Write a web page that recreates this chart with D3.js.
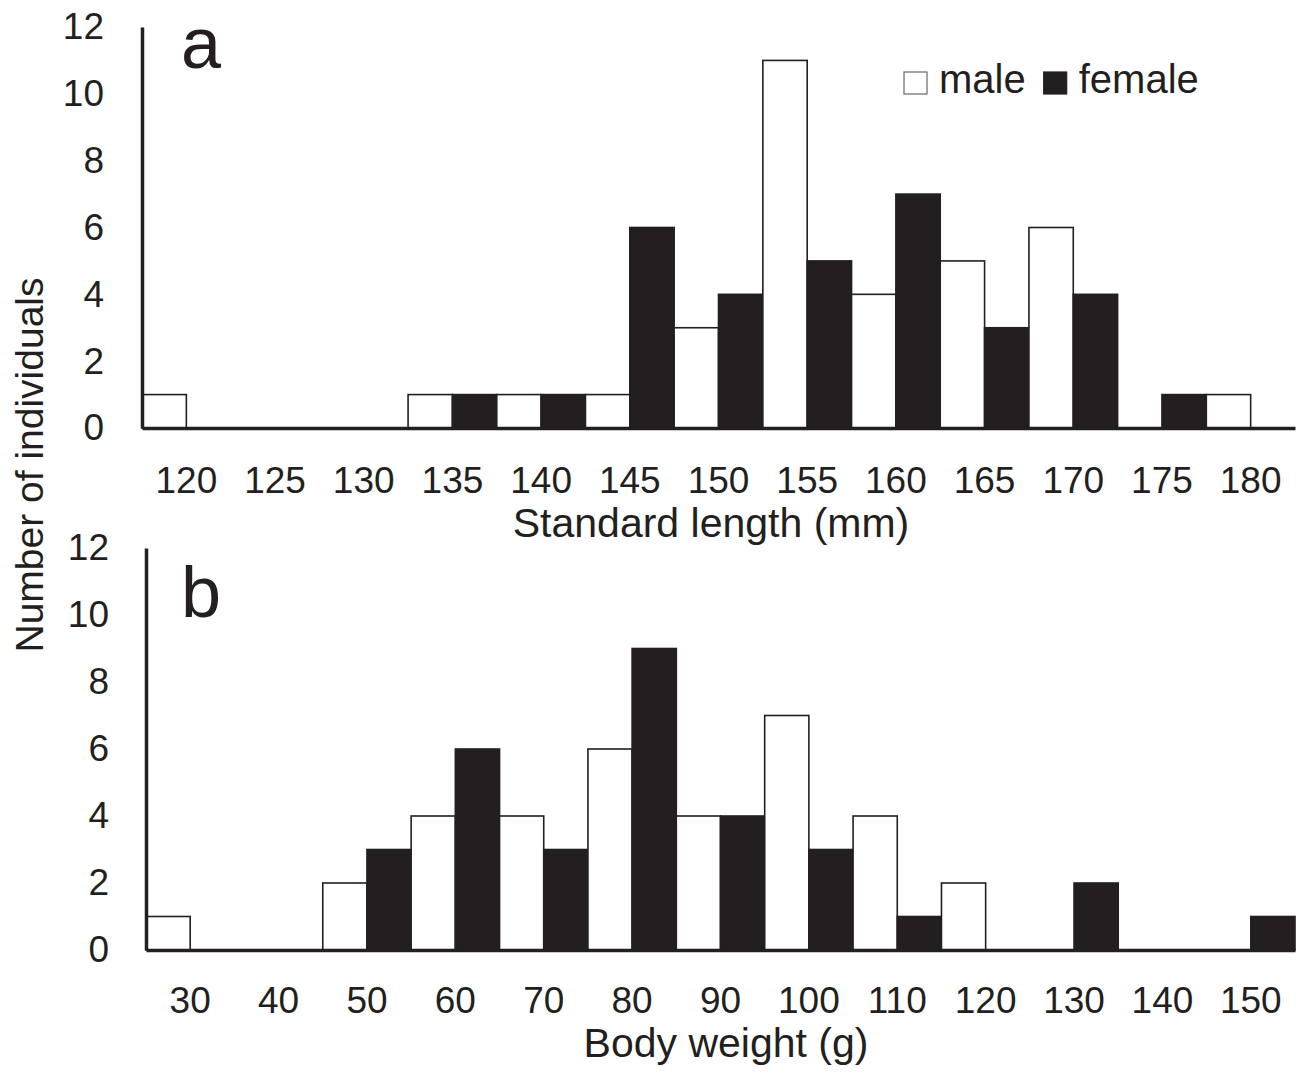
<!DOCTYPE html>
<html>
<head>
<meta charset="utf-8">
<script src="https://cdn.jsdelivr.net/npm/d3@7"></script>
<style>
  body { margin: 0; background: #fff; }
  text { font-family: "Liberation Sans", Arial, sans-serif; fill: #231f20; }
</style>
</head>
<body>
<script>
// data
const lengthBins = ["120","125","130","135","140","145","150","155","160","165","170","175","180"]
const lengthMale   = [1,0,0,1,1,1,3,11,4,5,6,0,1]
const lengthFemale = [0,0,0,1,1,6,4,5,7,3,4,1,0]

const weightBins = ["30","40","50","60","70","80","90","100","110","120","130","140","150"]
const weightMale   = [1,0,2,4,4,6,4,7,4,2,0,0,0]
const weightFemale = [0,0,3,6,3,9,4,3,1,0,2,0,1]

const sexes = ["male", "female"]
const yTicks = [0,2,4,6,8,10,12]

const ink = "#231f20"

let svg = d3.select("body")
        .append("svg")
        .attr("width", 1300)
        .attr("height", 1076)

// draws one panel
function panel(opt) {
    let x = d3.scaleBand().domain(opt.bins).range([opt.left, opt.right])
    let xSub = d3.scaleBand().domain(sexes).range([0, x.bandwidth()])
    let y = d3.scaleLinear().domain([0, 12]).range([opt.bottom, opt.top])

    let g = svg.append("g")

    let rows = opt.bins.map((b, i) => ({bin: b, male: opt.male[i], female: opt.female[i]}))

    // bars
    g.selectAll("g.bin")
        .data(rows)
        .join("g")
        .attr("class", "bin")
        .attr("transform", d => "translate(" + x(d.bin) + ",0)")
        .selectAll("rect")
        .data(d => sexes.map(s => ({sex: s, v: d[s]})).filter(e => e.v > 0))
        .join("rect")
        .attr("x", d => xSub(d.sex))
        .attr("width", xSub.bandwidth())
        .attr("y", d => y(d.v))
        .attr("height", d => y(0) - y(d.v))
        .attr("fill", d => d.sex == "male" ? "#fff" : ink)
        .attr("stroke", ink)
        .attr("stroke-width", 1.6)

    // y axis
    let yAxis = g.append("g")
        .attr("transform", "translate(" + opt.left + ",0)")
        .call(d3.axisLeft(y).tickValues(yTicks).tickSize(0).tickPadding(opt.ypad))
    yAxis.select(".domain").attr("stroke", ink).attr("stroke-width", 3.5)
    yAxis.selectAll("text").style("font-size", "37px")

    // x axis
    let xAxis = g.append("g")
        .attr("transform", "translate(0," + opt.bottom + ")")
        .call(d3.axisBottom(x).tickSize(0).tickPadding(opt.xpad))
    xAxis.select(".domain").attr("stroke", ink).attr("stroke-width", 3.5)
    xAxis.selectAll("text").style("font-size", "37px")

    g.append("text")
        .attr("x", opt.titleX)
        .attr("y", opt.titleY)
        .attr("text-anchor", "middle")
        .style("font-size", "41px")
        .text(opt.title)

    g.append("text")
        .attr("x", 181)
        .attr("y", opt.letterY)
        .style("font-size", "72px")
        .text(opt.letter)
}

panel({bins: lengthBins, male: lengthMale, female: lengthFemale,
       left: 142, right: 1295, top: 27, bottom: 428, ypad: 38, xpad: 39,
       title: "Standard length (mm)", titleX: 711, titleY: 537,
       letter: "a", letterY: 68})

panel({bins: weightBins, male: weightMale, female: weightFemale,
       left: 146, right: 1295, top: 548, bottom: 950, ypad: 37, xpad: 37,
       title: "Body weight (g)", titleX: 726, titleY: 1057,
       letter: "b", letterY: 617})

// shared y label
svg.append("text")
    .attr("transform", "translate(43,465) rotate(-90)")
    .attr("text-anchor", "middle")
    .style("font-size", "39px")
    .text("Number of individuals")

// legend
let legend = svg.append("g").attr("transform", "translate(904,70)")
let lx = 0
sexes.forEach(s => {
    legend.append("rect")
        .attr("x", lx).attr("y", 2)
        .attr("width", 23).attr("height", 22)
        .attr("fill", s == "male" ? "#fff" : ink)
        .attr("stroke", s == "male" ? "#666" : ink)
        .attr("stroke-width", 1.2)
    let t = legend.append("text")
        .attr("x", lx + 35).attr("y", 23)
        .style("font-size", "40px")
        .text(s)
    lx += 35 + t.node().getComputedTextLength() + 18
})
</script>
</body>
</html>
